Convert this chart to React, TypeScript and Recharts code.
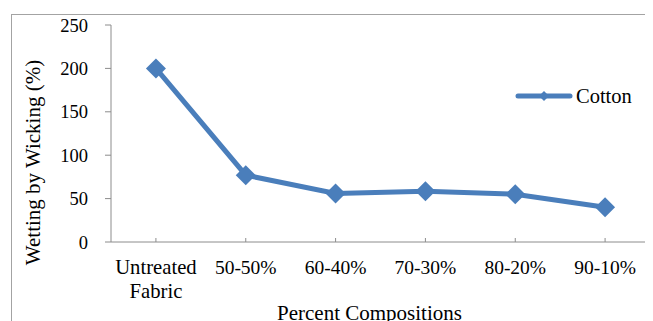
import React from 'react';
import { LineChart, Line, XAxis, YAxis, Legend } from 'recharts';

const categories = ['Untreated Fabric', '50-50%', '60-40%', '70-30%', '80-20%', '90-10%'];
const cottonValues = [200, 77, 56, 58.5, 55, 40];
const yTicks = [0, 50, 100, 150, 200, 250];
const seriesName = 'Cotton';
const xTitle = 'Percent Compositions';
const yTitle = 'Wetting by Wicking (%)';

const data = categories.map((c, i) => ({ category: c, cotton: cottonValues[i] }));

const FONT = "'Liberation Serif', Tinos, 'Noto Serif', 'DejaVu Serif', serif";
const BLUE = '#4a7ebb';
const AXIS = '#8c8c8c';

const Diamond = (props: any) => {
  const { cx, cy } = props;
  if (cx == null || cy == null) return null;
  const r = 10;
  return (
    <polygon
      points={`${cx},${cy - r} ${cx + r},${cy} ${cx},${cy + r} ${cx - r},${cy}`}
      fill={BLUE}
    />
  );
};

const XTick = (props: any) => {
  const { x, y, payload } = props;
  const v: string = payload.value;
  const isText = v === 'Untreated Fabric';
  const lines = isText ? ['Untreated', 'Fabric'] : [v];
  return (
    <g>
      <line x1={x} x2={x} y1={y - 4} y2={y} stroke={AXIS} strokeWidth={1} />
      <text
        x={x}
        y={y + 32}
        textAnchor="middle"
        style={{ fontFamily: FONT, fontSize: isText ? 20.7 : 19.5 }}
        fill="#000"
      >
        {lines.map((l, i) => (
          <tspan key={i} x={x} dy={i === 0 ? 0 : 24}>
            {l}
          </tspan>
        ))}
      </text>
    </g>
  );
};

const YTitle = (props: any) => {
  const { viewBox } = props;
  const cx = 25;
  const cy = viewBox.y + viewBox.height / 2 + 29;
  return (
    <text
      x={cx}
      y={cy}
      transform={`rotate(-90, ${cx}, ${cy})`}
      textAnchor="middle"
      dominantBaseline="central"
      style={{ fontFamily: FONT, fontSize: 21 }}
      fill="#000"
    >
      {yTitle}
    </text>
  );
};

const XTitle = (props: any) => {
  const { viewBox } = props;
  const cx = viewBox.x + viewBox.width / 2 - 11;
  const by = viewBox.y + 77.5;
  return (
    <text x={cx} y={by} textAnchor="middle" style={{ fontFamily: FONT, fontSize: 21 }} fill="#000">
      {xTitle}
    </text>
  );
};

const LegendContent = () => (
  <svg width={140} height={24} style={{ display: 'block', overflow: 'visible' }}>
    <line x1={2} x2={54} y1={12} y2={12} stroke={BLUE} strokeWidth={5} strokeLinecap="round" />
    <polygon points="28,7 33,12 28,17 23,12" fill={BLUE} />
    <text x={60} y={19.3} style={{ fontFamily: FONT, fontSize: 20.5 }} fill="#000">
      {seriesName}
    </text>
  </svg>
);

export default function App() {
  return (
    <div style={{ position: 'relative', width: 645, height: 313, overflow: 'hidden', background: '#fff', fontFamily: FONT }}>
      <div
        style={{
          position: 'absolute',
          left: 3,
          top: 6,
          width: 700,
          height: 400,
          border: '1.5px solid #a3a3a3',
          boxSizing: 'border-box',
        }}
      />
      <div style={{ position: 'absolute', left: 0, top: 0 }}>
        <LineChart
          width={645}
          height={313}
          data={data}
          margin={{ top: 17, right: 3, bottom: 0, left: 0 }}
        >
          <XAxis
            dataKey="category"
            scale="band"
            height={79}
            interval={0}
            tickSize={0}
            tickMargin={0}
            stroke={AXIS}
            tick={<XTick />}
            label={<XTitle />}
          />
          <YAxis
            width={103}
            domain={[0, 250]}
            ticks={yTicks}
            tickSize={6}
            tickMargin={17}
            stroke={AXIS}
            tick={{ fill: '#000', style: { fontFamily: FONT, fontSize: 18.5 } }}
            label={<YTitle />}
          />
          <Legend
            layout="horizontal"
            verticalAlign="middle"
            align="center"
            content={<LegendContent />}
            wrapperStyle={{ position: 'absolute', left: 508, top: 76, width: 140, height: 24 }}
          />
          <Line
            type="linear"
            dataKey="cotton"
            name={seriesName}
            stroke={BLUE}
            strokeWidth={5}
            dot={<Diamond />}
            activeDot={false}
            isAnimationActive={false}
          />
        </LineChart>
      </div>
    </div>
  );
}
